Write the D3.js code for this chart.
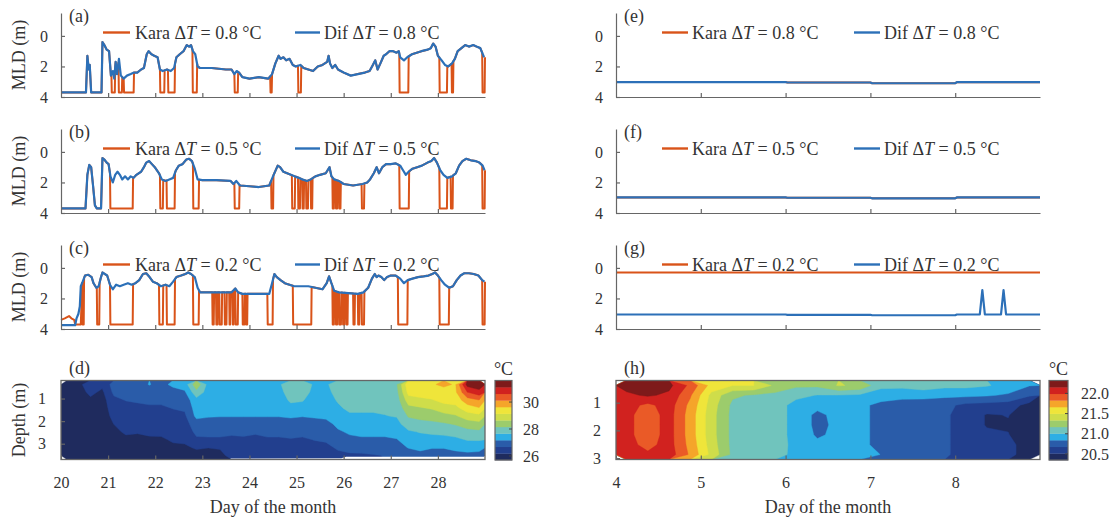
<!DOCTYPE html>
<html>
<head>
<meta charset="utf-8">
<script src="https://cdn.jsdelivr.net/npm/d3@7"></script>
<style>
body { margin: 0; background: #fff; }
svg text { font-family: "Liberation Serif", "Times New Roman", serif; fill: #333; }
</style>
</head>
<body>
<div id="chart"></div>
<script>
// ---- MLD series, [day, metres] ----
const difA = [[20.0,3.7],[20.53,3.7],[20.56,1.3],[20.59,2.2],[20.61,1.9],[20.64,3.7],[20.86,3.7],[20.88,0.4],[20.92,0.6],[20.97,0.9],[21.02,1.0],[21.06,2.6],[21.1,2.3],[21.13,2.8],[21.16,1.7],[21.19,2.5],[21.23,1.5],[21.27,2.6],[21.33,2.8],[21.4,2.6],[21.48,2.5],[21.55,2.4],[21.62,2.4],[21.7,2.2],[21.76,2.1],[21.82,1.2],[21.86,1.0],[21.92,1.2],[21.98,1.3],[22.05,1.4],[22.1,2.2],[22.16,2.3],[22.25,2.2],[22.33,2.3],[22.4,2.1],[22.45,1.4],[22.52,1.2],[22.6,1.0],[22.67,0.6],[22.72,0.7],[22.76,0.6],[22.8,1.0],[22.85,1.2],[22.9,2.0],[22.95,2.1],[23.2,2.1],[23.5,2.2],[23.62,2.2],[23.68,2.5],[23.73,2.3],[23.78,2.4],[23.85,2.7],[24.0,2.8],[24.2,2.7],[24.4,2.8],[24.48,2.5],[24.55,1.8],[24.62,1.3],[24.66,1.5],[24.72,1.4],[24.78,1.6],[24.85,1.5],[24.92,1.9],[24.98,2.0],[25.08,1.9],[25.15,2.1],[25.25,2.2],[25.35,2.3],[25.45,2.0],[25.55,1.9],[25.65,1.7],[25.68,1.3],[25.71,1.8],[25.76,2.1],[25.82,1.9],[25.88,2.2],[26.0,2.4],[26.15,2.6],[26.3,2.5],[26.45,2.4],[26.55,2.3],[26.62,1.9],[26.67,1.6],[26.72,2.2],[26.78,1.8],[26.85,1.3],[26.9,1.2],[26.97,1.0],[27.05,1.0],[27.12,1.1],[27.17,1.0],[27.2,1.4],[27.28,1.6],[27.35,1.4],[27.45,1.2],[27.55,1.1],[27.65,1.0],[27.78,0.9],[27.85,0.8],[27.9,0.5],[27.95,0.7],[28.0,1.3],[28.08,1.6],[28.15,1.9],[28.22,2.0],[28.3,1.8],[28.36,1.5],[28.42,1.0],[28.5,0.8],[28.58,0.6],[28.66,0.7],[28.75,0.6],[28.82,0.7],[28.9,0.8],[28.98,1.4]];
const difB = [[20.0,3.7],[20.52,3.7],[20.56,1.5],[20.6,0.85],[20.64,1.0],[20.68,2.2],[20.72,3.5],[20.76,3.7],[20.85,3.7],[20.88,0.4],[20.92,0.5],[20.97,0.7],[21.01,0.8],[21.05,1.6],[21.1,2.0],[21.15,1.5],[21.2,1.3],[21.25,1.5],[21.3,1.8],[21.36,1.6],[21.42,1.8],[21.48,1.6],[21.54,1.7],[21.6,1.5],[21.7,1.3],[21.76,1.0],[21.81,0.7],[21.87,0.6],[21.93,0.8],[21.99,1.0],[22.08,1.4],[22.14,1.8],[22.22,1.9],[22.3,1.8],[22.38,1.7],[22.44,1.2],[22.5,0.9],[22.58,0.8],[22.66,0.5],[22.72,0.45],[22.78,0.6],[22.84,1.1],[22.9,1.8],[23.0,1.85],[23.3,1.85],[23.6,1.9],[23.66,2.1],[23.72,1.9],[23.8,2.2],[24.0,2.25],[24.2,2.3],[24.42,2.2],[24.5,1.6],[24.6,0.9],[24.65,1.0],[24.72,1.3],[24.8,1.4],[24.88,1.5],[24.96,1.6],[25.05,1.7],[25.12,1.8],[25.22,1.9],[25.3,1.8],[25.4,1.6],[25.5,1.5],[25.62,1.4],[25.7,1.0],[25.74,1.6],[25.8,1.8],[25.9,1.9],[26.0,2.1],[26.2,2.2],[26.4,2.1],[26.5,2.0],[26.56,1.8],[26.64,1.4],[26.7,1.0],[26.75,1.4],[26.82,1.0],[26.9,0.8],[27.0,0.8],[27.1,0.75],[27.2,0.9],[27.26,1.2],[27.32,1.5],[27.38,1.3],[27.46,1.1],[27.56,1.0],[27.66,0.9],[27.78,0.7],[27.86,0.6],[27.92,0.4],[27.98,0.7],[28.05,1.2],[28.12,1.5],[28.2,1.7],[28.3,1.6],[28.38,1.4],[28.45,0.9],[28.52,0.6],[28.6,0.45],[28.7,0.55],[28.8,0.6],[28.88,0.7],[28.95,0.9],[28.99,1.2]];
const difC = [[20.0,3.75],[20.3,3.75],[20.33,3.3],[20.37,3.0],[20.4,2.5],[20.42,1.2],[20.46,0.9],[20.51,0.5],[20.58,0.45],[20.65,0.6],[20.69,1.0],[20.75,1.3],[20.8,1.2],[20.85,0.6],[20.88,0.3],[20.93,0.4],[20.98,0.5],[21.04,1.1],[21.1,1.4],[21.17,1.1],[21.25,1.2],[21.33,1.1],[21.42,1.0],[21.5,1.1],[21.58,1.0],[21.66,0.8],[21.74,0.4],[21.81,0.35],[21.88,0.6],[21.95,0.9],[22.03,1.0],[22.12,1.2],[22.22,1.1],[22.3,1.2],[22.38,0.9],[22.45,0.6],[22.55,0.5],[22.64,0.4],[22.7,0.3],[22.76,0.4],[22.84,0.6],[22.9,1.3],[22.95,1.6],[23.3,1.6],[23.62,1.6],[23.7,1.35],[23.76,1.6],[23.85,1.7],[24.1,1.7],[24.42,1.7],[24.48,1.0],[24.53,0.4],[24.58,0.6],[24.66,0.8],[24.75,1.0],[24.85,1.1],[24.95,1.2],[25.1,1.2],[25.25,1.2],[25.4,1.3],[25.55,1.4],[25.64,1.0],[25.69,0.55],[25.74,1.0],[25.8,1.5],[25.9,1.6],[26.1,1.65],[26.3,1.7],[26.42,1.6],[26.52,1.3],[26.6,0.7],[26.66,0.4],[26.7,0.6],[26.74,0.5],[26.8,0.6],[26.86,0.8],[26.92,0.6],[27.0,0.5],[27.1,0.5],[27.2,0.7],[27.28,1.0],[27.36,0.8],[27.46,0.7],[27.58,0.6],[27.7,0.55],[27.8,0.5],[27.88,0.4],[27.94,0.3],[28.0,0.5],[28.07,0.8],[28.15,1.1],[28.24,1.3],[28.32,1.2],[28.4,0.8],[28.48,0.5],[28.56,0.35],[28.66,0.35],[28.76,0.4],[28.86,0.5],[28.94,0.8],[28.99,0.9]];

// Kara drops to the bottom of the record, [start day, end day]
const karaDropsA = [[21.07,21.15],[21.22,21.3],[21.33,21.55],[22.1,22.2],[22.27,22.42],[22.79,22.89],[23.68,23.76],[24.44,24.48],[25.03,25.1],[27.18,27.38],[28.03,28.2],[28.29,28.33],[28.94,29.0]];
const karaDropsB = [[21.04,21.53],[22.1,22.17],[22.24,22.42],[22.8,22.93],[23.68,23.79],[24.46,24.51],[24.9,24.97],[25.03,25.08],[25.12,25.16],[25.2,25.25],[25.3,25.34],[25.76,25.8],[25.83,25.87],[25.9,25.94],[26.38,26.44],[27.18,27.39],[28.03,28.2],[28.27,28.32],[28.94,29.0]];
const karaDropsC = [[20.45,20.49],[20.76,20.82],[21.04,21.53],[22.08,22.17],[22.24,22.42],[22.8,22.93],[23.21,23.25],[23.29,23.33],[23.36,23.42],[23.47,23.52],[23.57,23.6],[23.64,23.67],[23.7,23.76],[23.85,23.9],[23.92,23.96],[24.38,24.5],[24.92,25.32],[25.76,25.8],[25.83,25.87],[25.9,25.95],[25.98,26.02],[26.05,26.09],[26.2,26.24],[26.3,26.34],[26.38,26.44],[27.15,27.36],[28.03,28.24],[28.94,29.0]];
const karaHeadC = [[20.0,3.4],[20.08,3.3],[20.17,3.15],[20.22,3.3],[20.28,3.4],[20.3,3.7],[20.42,3.7]];
const karaDropDepth = 3.7;

const difE = [[4,3.02],[6,3.02],[6.02,3.05],[7,3.05],[7.02,3.1],[8,3.1],[8.02,3.03],[9,3.03]];
const difF = [[4,2.98],[6,2.98],[6.02,3.0],[7,3.0],[7.02,3.04],[8,3.04],[8.02,2.98],[9,2.98]];
const difG = [[4,3.05],[6,3.05],[6.02,3.07],[7,3.07],[7.02,3.1],[8,3.1],[8.02,3.05],[8.29,3.05],[8.32,1.45],[8.35,3.05],[8.54,3.05],[8.57,1.45],[8.6,3.05],[9,3.05]];
const karaG = [[4,0.3],[9,0.3]];

const deltaT = ["0.8", "0.5", "0.2"];
const leftTicks = [21, 22, 23, 24, 25, 26, 27, 28];
const leftTickLabels = [20, 21, 22, 23, 24, 25, 26, 27, 28];
const rightTicks = [5, 6, 7, 8];
const rightTickLabels = [4, 5, 6, 7, 8];
const mldTicks = [0, 2, 4];
const depthTicks = [1, 2, 3];

// ---- temperature sections: one column per 0.25 day, top to bottom ----
// (d) days 20-29, depth 0.2-3.7 m in 10 rows
const dTemp = [
  [26.0,26.0,26.0,26.0,26.0,26.0,26.0,26.0,26.0,26.0],
  [26.1,26.0,26.0,26.0,26.0,26.0,26.0,26.0,26.0,26.0],
  [26.4,26.3,26.1,26.0,26.0,26.0,26.0,26.0,26.0,26.0],
  [26.3,26.1,26.0,26.0,26.0,26.0,26.0,26.0,26.0,26.0],
  [26.9,26.8,26.55,26.4,26.3,26.2,26.1,26.0,26.0,26.0],
  [26.95,26.9,26.7,26.5,26.45,26.35,26.25,26.1,26.0,26.0],
  [26.95,26.9,26.75,26.55,26.45,26.35,26.22,26.1,26.0,26.0],
  [27.2,26.95,26.8,26.6,26.5,26.4,26.3,26.1,26.0,26.0],
  [27.0,26.9,26.8,26.6,26.5,26.4,26.3,26.12,26.0,26.0],
  [27.3,26.95,26.85,26.7,26.55,26.45,26.35,26.25,26.1,26.0],
  [27.4,27.1,26.9,26.75,26.6,26.5,26.4,26.3,26.1,26.0],
  [28.5,28.0,27.5,27.4,27.3,26.95,26.8,26.6,26.25,26.0],
  [27.5,27.45,27.45,27.4,27.22,26.95,26.85,26.6,26.2,26.05],
  [27.5,27.45,27.4,27.35,27.2,26.95,26.85,26.6,26.22,26.1],
  [27.5,27.45,27.4,27.35,27.2,26.95,26.8,26.55,26.35,26.3],
  [27.5,27.45,27.4,27.35,27.2,26.95,26.8,26.6,26.4,26.35],
  [27.5,27.45,27.4,27.3,27.2,26.95,26.75,26.55,26.4,26.35],
  [27.5,27.45,27.4,27.3,27.2,26.95,26.85,26.6,26.4,26.35],
  [27.6,27.5,27.4,27.3,27.2,26.95,26.85,26.6,26.45,26.35],
  [27.95,27.9,27.75,27.5,27.25,26.95,26.85,26.65,26.5,26.4],
  [27.95,27.85,27.7,27.5,27.2,26.95,26.85,26.6,26.5,26.4],
  [27.6,27.55,27.45,27.4,27.25,26.95,26.85,26.7,26.5,26.4],
  [27.6,27.55,27.5,27.4,27.3,27.0,26.9,26.75,26.55,26.45],
  [27.9,27.8,27.7,27.6,27.45,27.3,27.1,26.9,26.75,26.55],
  [27.95,27.9,27.85,27.75,27.6,27.4,27.25,27.05,26.85,26.6],
  [27.95,27.9,27.85,27.75,27.6,27.45,27.3,27.1,26.9,26.6],
  [28.0,27.95,27.85,27.75,27.6,27.45,27.3,27.1,26.9,26.65],
  [28.0,27.95,27.85,27.75,27.65,27.5,27.3,27.1,26.9,26.7],
  [28.1,28.0,27.9,27.8,27.7,27.5,27.35,27.15,26.95,26.8],
  [29.5,29.3,28.9,28.5,28.2,27.95,27.6,27.4,27.2,26.9],
  [29.5,29.4,29.0,28.6,28.3,28.0,27.7,27.45,27.3,27.0],
  [29.6,29.4,29.1,28.7,28.35,28.05,27.75,27.5,27.2,26.95],
  [29.7,29.5,29.3,28.9,28.5,28.1,27.8,27.5,27.2,26.95],
  [29.6,29.55,29.35,29.0,28.6,28.2,27.9,27.55,27.3,27.0],
  [31.3,30.6,29.9,29.4,28.9,28.4,28.0,27.7,27.35,27.05],
  [31.5,30.9,30.1,29.6,29.0,28.5,28.05,27.7,27.4,26.95]
];
// (h) days 4-9, depth 0.2-3.05 m in 8 rows
const hTemp = [
  [22.22,22.12,22.06,22.04,22.04,22.04,22.05,22.08],
  [22.26,22.18,21.95,21.9,21.9,21.9,21.94,22.02],
  [22.2,22.12,22.07,22.06,22.06,22.06,22.06,22.08],
  [21.95,21.85,21.78,21.75,21.75,21.75,21.77,21.8],
  [21.6,21.45,21.42,21.4,21.4,21.4,21.42,21.45],
  [21.5,21.2,21.13,21.12,21.12,21.12,21.12,21.13],
  [21.5,21.15,21.1,21.1,21.1,21.1,21.1,21.1],
  [21.3,21.12,21.08,21.08,21.08,21.08,21.08,21.07],
  [21.2,21.05,20.95,20.95,20.95,20.95,20.96,20.96],
  [21.2,21.0,20.9,20.8,20.8,20.82,20.88,20.92],
  [21.35,21.0,20.9,20.9,20.88,20.88,20.9,20.92],
  [21.3,20.98,20.88,20.88,20.88,20.88,20.88,20.9],
  [21.05,20.92,20.8,20.8,20.8,20.8,20.8,20.84],
  [21.05,20.9,20.76,20.76,20.76,20.76,20.76,20.76],
  [21.1,20.9,20.75,20.74,20.74,20.74,20.74,20.74],
  [21.05,20.88,20.72,20.7,20.7,20.7,20.7,20.7],
  [21.05,20.88,20.64,20.62,20.62,20.62,20.62,20.62],
  [21.02,20.86,20.62,20.5,20.5,20.55,20.6,20.6],
  [20.95,20.82,20.6,20.52,20.5,20.52,20.57,20.57],
  [20.85,20.7,20.45,20.42,20.42,20.42,20.42,20.42]
];
// depth below which (d) has no record
const dGapDays = [23.6, 25.95, 26.05, 29];
const dGapDepth = [3.66, 3.65, 3.58, 3.58];

const dRange = [25.7, 31.6];
const hRange = [20.35, 22.32];
const dBarTicks = [26, 28, 30];
const hBarTicks = [20.5, 21.0, 21.5, 22.0];

const palette = ["#1f2b5e", "#223f8e", "#2a5ca9", "#2daee5", "#70c4bd", "#9ccc6c",
                 "#cfdd4a", "#efe53a", "#f5a52a", "#ea5a27", "#d1221f", "#7e1a1a"];
const orange = "#d95319", blue = "#2c70b8", axisColor = "#666";
const serif = "'Liberation Serif', 'Times New Roman', serif";

const svg = d3.select("#chart").append("svg").attr("width", 1115).attr("height", 523);

const leftX = d3.scaleLinear().domain([20, 29]).range([61, 485]);
const rightX = d3.scaleLinear().domain([4, 9]).range([616, 1040]);

function valueAt(series, day) {
    const i = d3.bisector(d => d[0]).right(series, day);
    if (i <= 0) return series[0][1];
    if (i >= series.length) return series[series.length - 1][1];
    const a = series[i - 1], b = series[i];
    return a[1] + (b[1] - a[1]) * (day - a[0]) / (b[0] - a[0]);
}

// Kara follows Dif except where it falls to the bottom of the record
function buildKara(dif, drops, head) {
    const eps = 0.008;
    const start = head ? head[head.length - 1][0] : -Infinity;
    let days = dif.map(d => d[0]);
    drops.forEach(([s, e]) => days.push(s, s + eps, e - eps, e));
    days = Array.from(new Set(days)).filter(d => d > start).sort((a, b) => a - b);
    const pts = head ? head.slice() : [];
    days.forEach(day => {
        const inDrop = drops.some(([s, e]) => day >= s + eps - 1e-9 && day <= e - eps + 1e-9);
        pts.push([day, inDrop ? karaDropDepth : valueAt(dif, day)]);
    });
    return pts;
}

const panels = [
    { lab: "(a)", x: leftX, off: 0, dt: deltaT[0], dif: difA, kara: buildKara(difA, karaDropsA) },
    { lab: "(b)", x: leftX, off: 116, dt: deltaT[1], dif: difB, kara: buildKara(difB, karaDropsB) },
    { lab: "(c)", x: leftX, off: 232, dt: deltaT[2], dif: difC, kara: buildKara(difC, karaDropsC, karaHeadC) },
    { lab: "(e)", x: rightX, off: 0, dt: deltaT[0], dif: difE, kara: difE },
    { lab: "(f)", x: rightX, off: 116, dt: deltaT[1], dif: difF, kara: difF },
    { lab: "(g)", x: rightX, off: 232, dt: deltaT[2], dif: difG, kara: karaG }
];

function styleAxis(g) {
    g.attr("font-family", serif);
    g.select(".domain").attr("stroke", axisColor).attr("stroke-width", 1.2);
    g.selectAll(".tick line").attr("stroke", axisColor).attr("stroke-width", 1.2);
    g.selectAll(".tick text").attr("fill", "#333").attr("font-size", 16);
}

function legendText(t, name, dt) {
    t.append("tspan").text(name + " \u0394");
    t.append("tspan").attr("font-style", "italic").text("T");
    t.append("tspan").text(" = " + dt + " \u00b0C");
}

panels.forEach(p => {
    const isLeft = p.x === leftX;
    const y = d3.scaleLinear().domain([-1.5, 4]).range([13 + p.off, 97 + p.off]);
    const g = svg.append("g");
    const x0 = p.x.range()[0];

    const line = d3.line().x(d => p.x(d[0])).y(d => y(d[1]));
    g.append("path").datum(p.kara).attr("d", line)
        .attr("fill", "none").attr("stroke", orange).attr("stroke-width", 2).attr("stroke-linejoin", "round");
    g.append("path").datum(p.dif).attr("d", line)
        .attr("fill", "none").attr("stroke", blue).attr("stroke-width", 2.2).attr("stroke-linejoin", "round");

    g.append("g").attr("transform", `translate(${x0},0)`)
        .call(d3.axisLeft(y).tickValues(mldTicks).tickFormat(d3.format("d"))
            .tickSizeInner(-4).tickSizeOuter(0).tickPadding(13))
        .call(styleAxis);
    g.append("g").attr("transform", `translate(0,${y(4)})`)
        .call(d3.axisBottom(p.x).tickValues(isLeft ? leftTicks : rightTicks).tickSizeInner(-4).tickSizeOuter(0).tickFormat(""))
        .call(styleAxis);

    g.append("text").attr("x", x0 + 8).attr("y", 22 + p.off).attr("font-size", 18).text(p.lab);

    // legend
    const lx = isLeft ? [103, 130, 135, 295, 320, 324] : [662, 688, 692, 854, 880, 884];
    const ly = 32.5 + p.off;
    g.append("line").attr("x1", lx[0]).attr("x2", lx[1]).attr("y1", ly).attr("y2", ly)
        .attr("stroke", orange).attr("stroke-width", 2.4);
    legendText(g.append("text").attr("x", lx[2]).attr("y", ly + 6).attr("font-size", 18), "Kara", p.dt);
    g.append("line").attr("x1", lx[3]).attr("x2", lx[4]).attr("y1", ly).attr("y2", ly)
        .attr("stroke", blue).attr("stroke-width", 2.4);
    legendText(g.append("text").attr("x", lx[5]).attr("y", ly + 6).attr("font-size", 18), "Dif", p.dt);

    if (isLeft) {
        g.append("text").attr("transform", `translate(25,${55 + p.off}) rotate(-90)`)
            .attr("text-anchor", "middle").attr("font-size", 18).text("MLD (m)");
    }
});

// ---- temperature sections ----
const heats = [
    { lab: "(d)", x: leftX, depth: [0.2, 3.7], temp: dTemp, range: dRange, bar: [495, 512], barTicks: dBarTicks,
      barFmt: d3.format("d"), barLabelX: 523, ticks: leftTickLabels, id: "clipD" },
    { lab: "(h)", x: rightX, depth: [0.2, 3.05], temp: hTemp, range: hRange, bar: [1049, 1068], barTicks: hBarTicks,
      barFmt: d3.format(".1f"), barLabelX: 1081, ticks: rightTickLabels, id: "clipH" }
];

heats.forEach(h => {
    const y = d3.scaleLinear().domain(h.depth).range([380.5, 459.5]);
    const [xa, xb] = h.x.range();
    const g = svg.append("g");
    g.append("clipPath").attr("id", h.id).append("rect")
        .attr("x", xa).attr("y", 380.5).attr("width", xb - xa).attr("height", 79);

    const nx = h.temp.length, ny = h.temp[0].length;
    const values = new Array(nx * ny);
    for (let j = 0; j < ny; j++) for (let i = 0; i < nx; i++) values[j * nx + i] = h.temp[i][j];
    const step = (h.range[1] - h.range[0]) / palette.length;
    const thresholds = d3.range(palette.length).map(k => h.range[0] + k * step);
    const contours = d3.contours().size([nx, ny]).thresholds(thresholds)(values);
    const gx = d3.scaleLinear().domain([0, nx]).range([xa, xb]);
    const gy = d3.scaleLinear().domain([0, ny]).range([y(h.depth[0]), y(h.depth[1])]);
    const path = d3.geoPath(d3.geoTransform({
        point: function(px, py) { this.stream.point(gx(px), gy(py)); }
    }));
    g.append("g").attr("clip-path", `url(#${h.id})`)
        .selectAll("path").data(contours).join("path")
        .attr("d", path)
        .attr("fill", (d, i) => palette[i])
        .attr("stroke", (d, i) => palette[i]).attr("stroke-width", 0.4);

    if (h.id === "clipD") {
        const gap = dGapDays.map((d, i) => [d, dGapDepth[i]]);
        g.append("path").datum(gap)
            .attr("d", d3.area().x(d => h.x(d[0])).y0(d => y(d[1])).y1(y(h.depth[1])))
            .attr("fill", "#fff");
    }

    g.append("rect").attr("x", xa).attr("y", 380.5).attr("width", xb - xa).attr("height", 79)
        .attr("fill", "none").attr("stroke", axisColor).attr("stroke-width", 1.3);

    g.append("g").attr("transform", `translate(${xa},0)`)
        .call(d3.axisLeft(y).tickValues(depthTicks).tickFormat(d3.format("d"))
            .tickSizeInner(-4).tickSizeOuter(0).tickPadding(15))
        .call(styleAxis);
    g.append("g").attr("transform", "translate(0,459.5)")
        .call(d3.axisBottom(h.x).tickValues(h.ticks).tickSizeInner(-4).tickSizeOuter(0).tickPadding(17).tickFormat(d3.format("d")))
        .call(styleAxis);
    g.selectAll(".domain").remove();

    g.append("text").attr("x", xa + 8).attr("y", 374).attr("font-size", 18).text(h.lab);
    g.append("text").attr("x", (xa + xb) / 2).attr("y", 513).attr("text-anchor", "middle")
        .attr("font-size", 18).text("Day of the month");

    // colour bar
    const cb = d3.scaleLinear().domain(h.range).range([460, 380.5]);
    const bar = svg.append("g");
    bar.selectAll("rect.band").data(thresholds).join("rect").attr("class", "band")
        .attr("x", h.bar[0]).attr("width", h.bar[1] - h.bar[0])
        .attr("y", d => cb(d + step)).attr("height", d => cb(d) - cb(d + step) + 0.3)
        .attr("fill", (d, i) => palette[i]);
    bar.append("rect").attr("x", h.bar[0]).attr("y", 380.5).attr("width", h.bar[1] - h.bar[0]).attr("height", 79.5)
        .attr("fill", "none").attr("stroke", axisColor).attr("stroke-width", 1.2);
    bar.selectAll("line.tk").data(h.barTicks).join("line").attr("class", "tk")
        .attr("x1", h.bar[1] - 3).attr("x2", h.bar[1]).attr("y1", d => cb(d)).attr("y2", d => cb(d))
        .attr("stroke", "#444");
    bar.selectAll("text.lb").data(h.barTicks).join("text").attr("class", "lb")
        .attr("x", h.barLabelX).attr("y", d => cb(d)).attr("dy", "0.35em")
        .attr("font-size", 16).text(h.barFmt);
    bar.append("text").attr("x", (h.bar[0] + h.bar[1]) / 2).attr("y", 375).attr("text-anchor", "middle")
        .attr("font-size", 18).text("\u00b0C");
});

svg.append("text").attr("transform", "translate(25,420) rotate(-90)")
    .attr("text-anchor", "middle").attr("font-size", 18).text("Depth (m)");
</script>
</body>
</html>
